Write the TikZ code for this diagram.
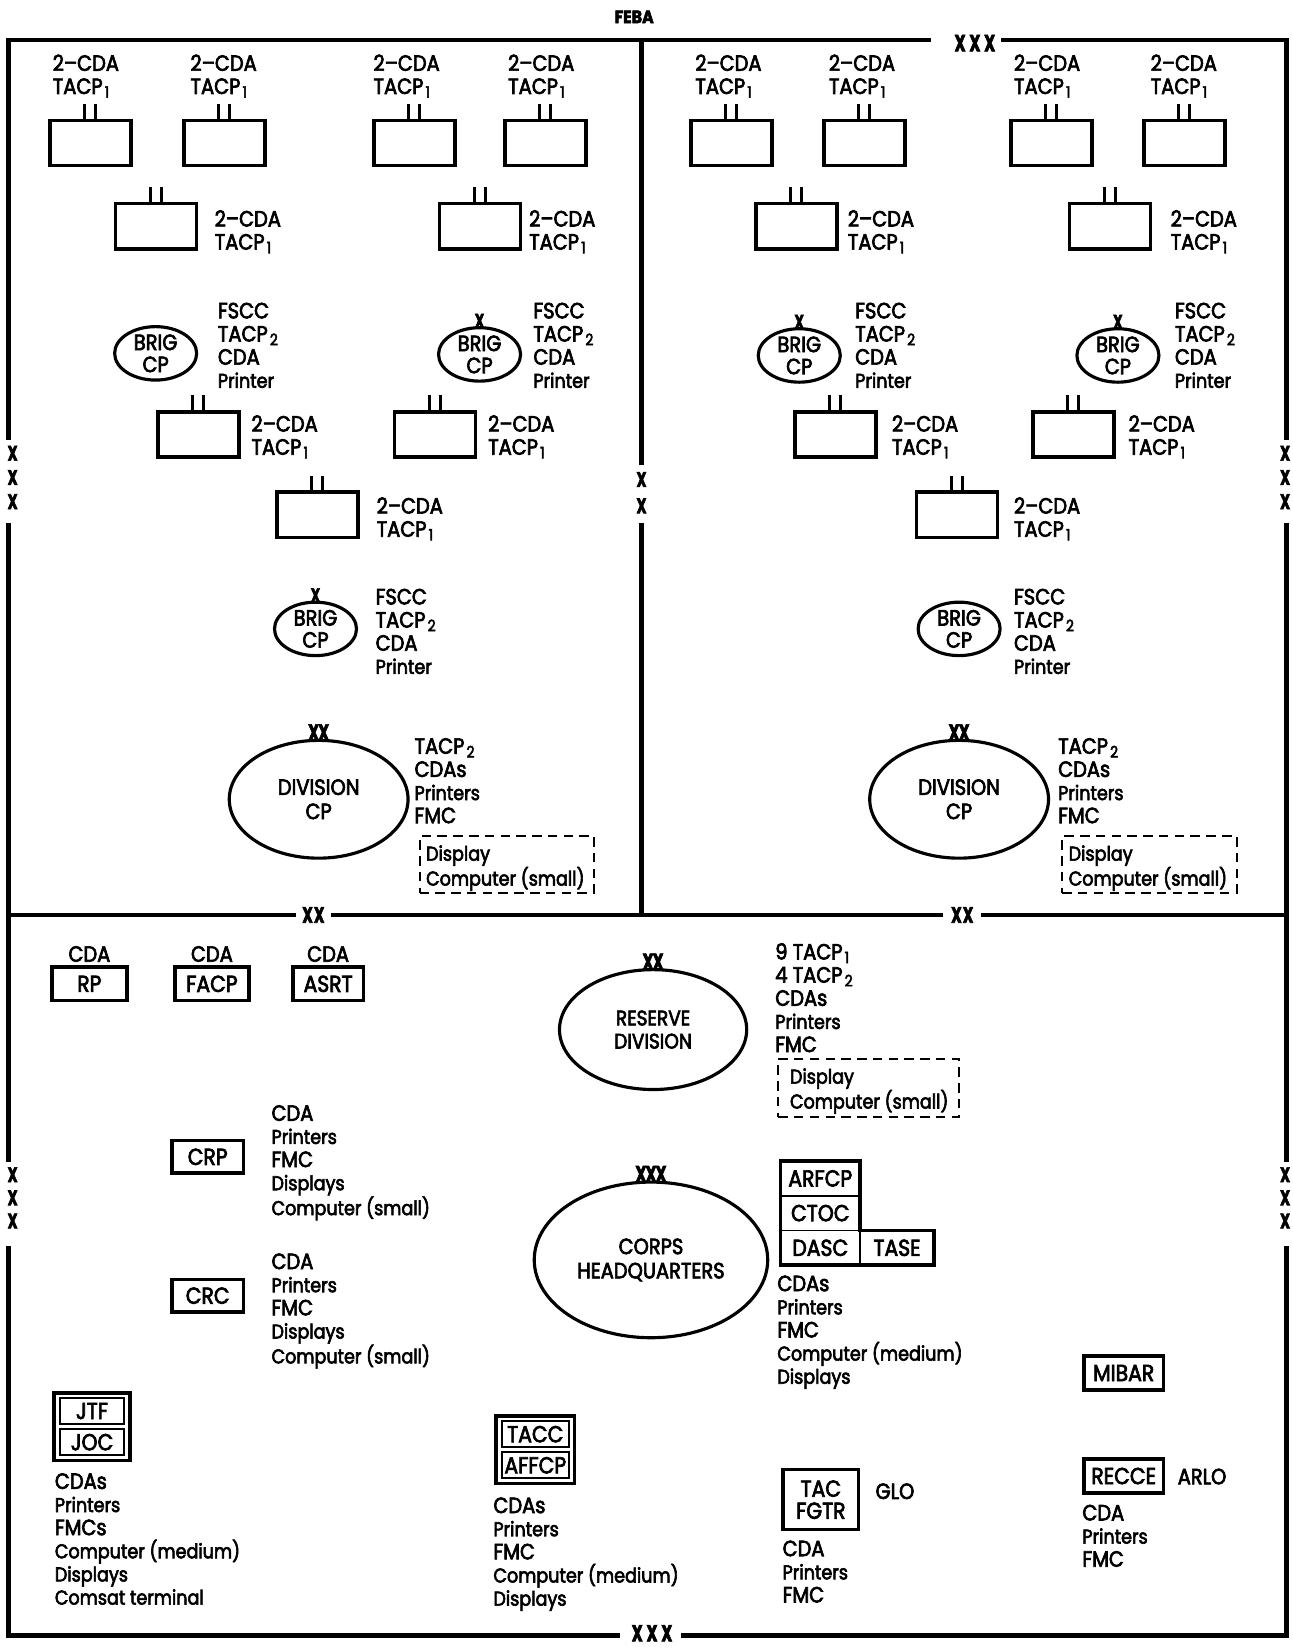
\documentclass[tikz,border=0pt]{standalone}
\usepackage{fontspec}
\usepackage{graphicx}
\setmainfont{Poppins}[FakeStretch=0.88, FakeBold=3]
\usetikzlibrary{shapes.geometric,positioning}
\newcommand\lblf{\fontsize{19}{22}\selectfont}
\newcommand\capf{\fontsize{21}{22}\selectfont}
\newcommand\boxf{\fontsize{22}{22}\selectfont}
\newcommand\lowi[1]{\kern2pt\raisebox{-3.5pt}{\fontsize{15}{15}\selectfont #1}}
\newcommand\xm{\scalebox{0.8}[1.05]{\bfseries X}}
\newcommand\tacpa{TACP\lowi{1}}
\newcommand\tacpb{TACP\lowi{2}}
\tikzset{
  border/.style={line width=4.5pt},
  unitbox/.style={draw, line width=3.4pt, minimum width=77pt, minimum height=43pt, inner sep=0pt},
  tickline/.style={line width=2.8pt},
  lbl/.style={anchor=north west, yshift=7.3pt, inner sep=0pt, align=left, font=\lblf, execute at begin node={\rule{0pt}{14pt}}},
  brig/.style={draw, ellipse, line width=3pt, minimum width=78pt, minimum height=48pt, inner sep=0pt, align=center, font=\fontsize{21}{21}\selectfont},
  bigell/.style={draw, ellipse, line width=3pt, inner sep=0pt, align=center, font=\fontsize{21}{23}\selectfont},
  xmk/.style={inner sep=0pt, font=\fontsize{19}{19}\selectfont},
  dashbox/.style={draw, line width=2pt, dash pattern=on 9pt off 6pt, inner sep=0pt, anchor=north west},
  sbox/.style={draw, line width=3.4pt, inner sep=0pt, font=\boxf},
  obox/.style={draw, line width=3.2pt, inner sep=0pt, outer sep=0pt},
  cellbox/.style={draw, line width=1.8pt, inner sep=0pt, outer sep=0pt, font=\boxf},
  txt/.style={inner sep=0pt, font=\capf},
}
\begin{document}
\begin{tikzpicture}[x=1pt,y=-1pt]
\useasboundingbox (0,0) rectangle (1229,1568);
% ---------- frame ----------
\draw[border] (8,418) -- (8,38) -- (885,38);
\draw[border] (952,38) -- (1223,38) -- (1223,418);
\draw[border] (1223,497) -- (1223,1105);
\draw[border] (1223,1185) -- (1223,1555) -- (648,1555);
\draw[border] (590,1555) -- (8,1555) -- (8,1185);
\draw[border] (8,1105) -- (8,497);
\draw[border] (8,870) -- (281,870);
\draw[border] (315,870) -- (897,870);
\draw[border] (933,870) -- (1223,870);
\draw[border] (610,38) -- (610,442);
\draw[border] (610,497) -- (610,870);
% boundary marks
\node[txt, font=\fontsize{17}{17}\selectfont\bfseries] (feba) at (603,16) {FEBA};
\node[xmk, font=\fontsize{21}{21}\selectfont] (xtop) at (927,41) {\xm\,\xm\,\xm};
\node[xmk, font=\fontsize{21}{21}\selectfont] (xbot) at (620,1553) {\xm\,\xm\,\xm};
\node[xmk, font=\fontsize{20}{20}\selectfont] (xmh1) at (298,870) {\xm\kern1pt\xm};
\node[xmk, font=\fontsize{20}{20}\selectfont] (xmh2) at (915,870) {\xm\kern1pt\xm};
\foreach \n/\yy in {l1/431,l2/454,l3/477,l4/1117,l5/1139,l6/1161}{
  \node[xmk] (x\n) at (12,\yy) {\xm};
  \node[xmk] (xr\n) at (1222,\yy) {\xm};
}
\node[xmk] (xm1) at (610,456) {\xm};
\node[xmk] (xm2) at (610,481) {\xm};
% ---------- forward units: row 1 ----------
\foreach \n/\cx/\lx in {a1/86/50, a2/213.5/181, a3/394/355, a4/518.5/483, b1/695.5/661, b2/822/788, b3/1000/964, b4/1126.5/1094}{
  \node[unitbox] (\n) at (\cx,136) {};
  \draw[tickline] ([xshift=-5.5pt]\n.north) -- ++(0,-14);
  \draw[tickline] ([xshift=5pt]\n.north) -- ++(0,-14);
  \node[lbl, font=\capf] (\n-l) at (\lx,59) {2--CDA\\\tacpa};
}
% ---------- other units ----------
\foreach \n/\cx/\cy/\lx/\ly in {c1/148.5/215/204/207, c2/456.5/215/503/207, d1/757.5/215/806/207, d2/1055.5/215/1113/207, c3/188.5/413/239/402, c4/413.5/413/464/402, d3/794.5/413/848/402, d4/1020.5/413/1073/402, c5/302/489.5/358/480, d5/910/489.5/964/480}{
  \node[unitbox] (\n) at (\cx,\cy) {};
  \draw[tickline] ([xshift=-5.5pt]\n.north) -- ++(0,-14);
  \draw[tickline] ([xshift=5pt]\n.north) -- ++(0,-14);
  \node[lbl, font=\capf] (\n-l) at (\lx,\ly) {2--CDA\\\tacpa};
}
% ---------- brigade CPs ----------
\foreach \n/\cx/\cy/\lx/\ly in {e1/148/336/207/295, e2/456/337/507/295, f1/760/338/813/295, f2/1063/338/1117/295, e3/300/598/357/567, f3/912/598/964/567}{
  \node[brig] (\n) at (\cx,\cy) {BRIG\\CP};
  \node[lbl, font=\capf] (\n-l) at (\lx,\ly) {FSCC\\\tacpb\\CDA\\{\lblf Printer}};
}
\foreach \n in {e2,f1,f2,e3}{
  \node[xmk, font=\fontsize{18}{18}\selectfont] (\n-x) at ([yshift=5pt]\n.north) {\xm};
}
% ---------- division CPs ----------
\foreach \n/\cx/\lx/\dx in {g1/303/394/398, g2/912/1006/1009}{
  \node[bigell, minimum width=170pt, minimum height=112pt] (\n) at (\cx,760) {DIVISION\\CP};
  \node[xmk, font=\fontsize{21}{21}\selectfont] (\n-x) at ([yshift=6pt]\n.north) {\xm\kern-1pt\xm};
  \node[lbl] (\n-l) at (\lx,709) {{\capf\tacpb}\\{\capf CDAs}\\Printers\\{\capf FMC}};
  \node[dashbox, minimum width=166pt, minimum height=54pt] (\n-d) at (\dx,794) {};
  \node[lbl] (\n-dl) at ([xshift=7pt,yshift=-17pt]\n-d.north west) {Display\\Computer (small)};
}
% ---------- rear area ----------
\node[sbox, minimum width=71pt, minimum height=32pt] (rp) at (85,935.5) {RP};
\node[sbox, minimum width=70pt, minimum height=32pt] (facp) at (201.5,935.5) {FACP};
\node[sbox, minimum width=67pt, minimum height=32pt] (asrt) at (312,935.5) {ASRT};
\node[txt, above=3pt of rp] (rp-l) {CDA};
\node[txt, above=3pt of facp] (facp-l) {CDA};
\node[txt, above=3pt of asrt] (asrt-l) {CDA};

\node[bigell, minimum width=178pt, minimum height=114pt, font=\fontsize{20}{22}\selectfont] (res) at (621,979) {RESERVE\\DIVISION};
\node[xmk, font=\fontsize{21}{21}\selectfont] (res-x) at ([yshift=6pt]res.north) {\xm\kern-1pt\xm};
\node[lbl] (res-l) at (737,904) {{\capf 9 \tacpa}\\{\capf 4 \tacpb}\\{\capf CDAs}\\Printers\\{\capf FMC}};
\node[dashbox, minimum width=172pt, minimum height=55pt] (res-d) at (739,1006) {};
\node[lbl] (res-dl) at ([xshift=12pt,yshift=-17pt]res-d.north west) {Display\\Computer (small)};

\node[sbox, minimum width=68pt, minimum height=31pt] (crp) at (197.5,1100) {CRP};
\node[lbl] (crp-l) at (258,1058) {{\capf CDA}\\Printers\\{\capf FMC}\\Displays\\Computer (small)};
\node[sbox, minimum width=68pt, minimum height=31pt] (crc) at (197.5,1232) {CRC};
\node[lbl] (crc-l) at (258,1199) {{\capf CDA}\\Printers\\{\capf FMC}\\Displays\\Computer (small)};

\node[bigell, minimum width=222pt, minimum height=148pt] (corps) at (619,1198) {CORPS\\HEADQUARTERS};
\node[xmk, font=\fontsize{21}{21}\selectfont] (corps-x) at ([yshift=6pt]corps.north) {\xm\kern-1pt\xm\kern-1pt\xm};

\node[cellbox, minimum width=76pt, minimum height=33pt] (arfcp) at (780,1120.5) {ARFCP};
\node[cellbox, minimum width=76pt, minimum height=33pt] (ctoc) at (780,1153.5) {CTOC};
\node[cellbox, minimum width=76pt, minimum height=33pt] (dasc) at (780,1186.5) {DASC};
\node[cellbox, minimum width=70pt, minimum height=33pt] (tase) at (853,1186.5) {TASE};
\draw[line width=3.4pt, line join=miter] (arfcp.north west) -- (arfcp.north east) -- (tase.north west) -- (tase.north east) -- (tase.south east) -- (dasc.south west) -- cycle;
\node[lbl] (hq-l) at (739,1220) {{\capf CDAs}\\Printers\\{\capf FMC}\\Computer (medium)\\Displays};

\node[obox, minimum width=72pt, minimum height=64pt] (jtfo) at (87.5,1356.5) {};
\node[cellbox, minimum width=61pt, minimum height=25pt] (jtf) at (87.5,1341.7) {JTF};
\node[cellbox, minimum width=61pt, minimum height=25pt] (joc) at (87.5,1371.3) {JOC};
\node[lbl] (jtf-l) at (52,1408) {{\capf CDAs}\\Printers\\{\capf FMCs}\\Computer (medium)\\Displays\\Comsat terminal};

\node[obox, minimum width=75pt, minimum height=64pt] (tacco) at (509,1378.5) {};
\node[cellbox, minimum width=64pt, minimum height=25pt] (tacc) at (509,1363.7) {TACC};
\node[cellbox, minimum width=64pt, minimum height=25pt] (affcp) at (509,1393.3) {AFFCP};
\node[lbl] (tacc-l) at (469,1431) {{\capf CDAs}\\Printers\\{\capf FMC}\\Computer (medium)\\Displays};

\node[sbox, minimum width=72pt, minimum height=57pt, align=center, font=\fontsize{22}{21}\selectfont] (tacf) at (780.5,1426) {TAC\\FGTR};
\node[txt] (glo) at (851,1418) {GLO};
\node[lbl] (tacf-l) at (744,1472) {{\capf CDA}\\Printers\\{\capf FMC}};

\node[sbox, minimum width=76pt, minimum height=32pt] (mibar) at (1068.5,1305.5) {MIBAR};
\node[sbox, minimum width=76pt, minimum height=32pt] (recce) at (1068.5,1403.5) {RECCE};
\node[txt] (arlo) at (1143,1404) {ARLO};
\node[lbl] (recce-l) at (1029,1438) {{\capf CDA}\\Printers\\{\capf FMC}};
\end{tikzpicture}
\end{document}
